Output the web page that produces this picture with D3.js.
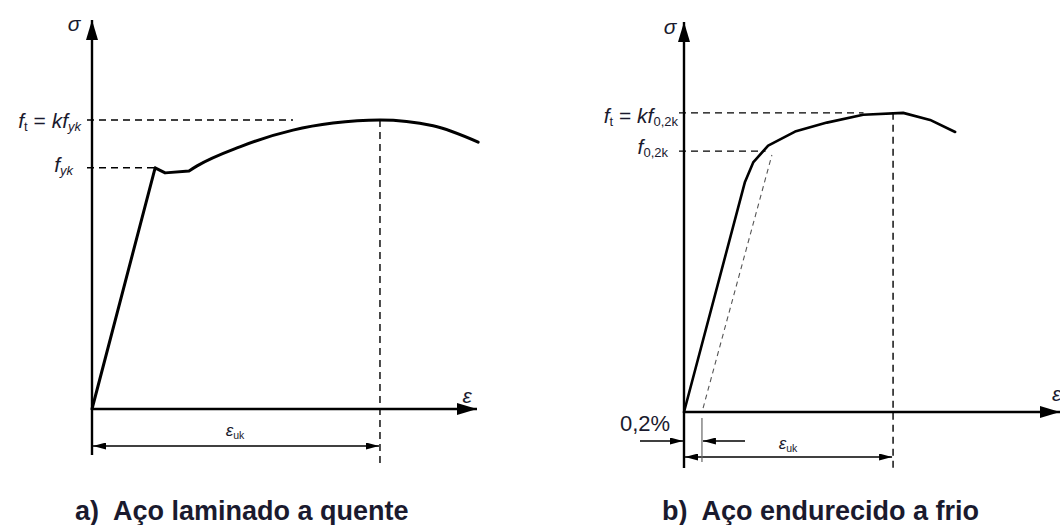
<!DOCTYPE html>
<html>
<head>
<meta charset="utf-8">
<script src="https://cdn.jsdelivr.net/npm/d3@7"></script>
<style>
  html, body { margin: 0; padding: 0; background: #fff; }
  svg { display: block; }
  text { font-family: "Liberation Sans", Arial, sans-serif; fill: #1a1a2e; white-space: pre; }
</style>
</head>
<body>
<svg id="chart" width="1060" height="525"></svg>
<script>
// ---- Stress–strain diagrams of reinforcing steel (schematic units 0..100) ----

// a) hot-rolled steel
const hotStrain  = [0, 16.4, 19.0, 25.2, 27.3, 38.4, 52.2, 62.6, 74.8, 88.6, 100.3];
const hotStress  = [0, 62.0, 60.7, 61.2, 62.5, 67.4, 71.7, 73.5, 74.3, 72.8, 68.6];
const hotFyk = 62.0;      // yield strength
const hotFt  = 74.3;      // tensile strength
const hotEuk = 74.8;      // strain at maximum load
const hotFtDashEnd = 52.2;

// b) cold-worked steel
const coldStrain = [0, 16.3, 18.5, 22.5, 29.7, 38.2, 47.9, 58.6, 65.8, 72.5];
const coldStress = [0, 59.0, 64.0, 68.3, 71.9, 74.2, 76.2, 76.7, 74.9, 71.8];
const coldF02k = 66.9;    // 0,2% proof strength
const coldFt   = 76.7;    // tensile strength
const coldEuk  = 55.9;    // strain at maximum load
const coldOffset = 4.8;   // 0,2% offset strain
const coldOffsetLine = [[5.1, 1.0], [23.5, 65.9]];
const coldFtDashEnd = 48.0;
const coldF02DashEnd = 21.8;

const titles = ["a)  Aço laminado a quente", "b)  Aço endurecido a frio"];

const svg = d3.select("#chart");
const defs = svg.append("defs");

function marker(id, w, h) {
  defs.append("marker")
    .attr("id", id)
    .attr("viewBox", `0 0 ${w} ${h}`)
    .attr("refX", w).attr("refY", h / 2)
    .attr("markerWidth", w).attr("markerHeight", h)
    .attr("markerUnits", "userSpaceOnUse")
    .attr("orient", "auto-start-reverse")
    .append("path")
    .attr("d", `M0,0L${w},${h / 2}L0,${h}Z`)
    .attr("fill", "#000");
}
marker("axisHead", 20, 12);
marker("dimHead", 13, 7);

const dash = "7,5";

function panel(opt) {
  const g = svg.append("g");
  const x = d3.scaleLinear().domain([0, 100]).range([opt.x0, opt.x1]);
  const y = d3.scaleLinear().domain([0, 100]).range([opt.y0, opt.y1]);

  // axes
  g.append("line")
    .attr("x1", x(0)).attr("y1", opt.yAxisBottom)
    .attr("x2", x(0)).attr("y2", y(100))
    .attr("stroke", "#000").attr("stroke-width", 2.4)
    .attr("marker-end", "url(#axisHead)");
  g.append("line")
    .attr("x1", x(0)).attr("y1", y(0))
    .attr("x2", opt.xAxisEnd).attr("y2", y(0))
    .attr("stroke", "#000").attr("stroke-width", 2.4)
    .attr("marker-end", "url(#axisHead)");

  // reference dashed lines
  const hd = (v, end) => g.append("line")
    .attr("x1", x(0) - 5).attr("y1", y(v)).attr("x2", x(end)).attr("y2", y(v))
    .attr("stroke", "#000").attr("stroke-width", 1.4).attr("stroke-dasharray", dash);
  opt.hLines.forEach(h => hd(h.v, h.end));

  g.append("line")
    .attr("x1", x(opt.euk)).attr("y1", y(opt.ft))
    .attr("x2", x(opt.euk)).attr("y2", opt.eukBottom)
    .attr("stroke", "#000").attr("stroke-width", 1.4).attr("stroke-dasharray", dash);

  // curve
  const pts = opt.strain.map((s, i) => [x(s), y(opt.stress[i])]);
  g.append("path")
    .attr("d", d3.line().curve(opt.curve)(pts))
    .attr("fill", "none").attr("stroke", "#000")
    .attr("stroke-width", opt.curveWidth)
    .attr("stroke-linejoin", "round").attr("stroke-linecap", "round");

  // strain dimension εuk
  g.append("line")
    .attr("x1", x(0) + 1).attr("y1", opt.dimY)
    .attr("x2", x(opt.euk) - 1).attr("y2", opt.dimY)
    .attr("stroke", "#000").attr("stroke-width", 1.3)
    .attr("marker-start", "url(#dimHead)").attr("marker-end", "url(#dimHead)");

  return { g, x, y };
}

function addLabel(g, parts, xPos, yPos, anchor, size) {
  const t = g.append("text").attr("x", xPos).attr("y", yPos)
    .attr("text-anchor", anchor).attr("font-size", size);
  parts.forEach(p => {
    const s = t.append("tspan").text(p.t)
      .attr("font-style", p.it ? "italic" : "normal");
    if (p.sub) s.attr("font-size", size * 0.62).attr("dy", 3);
    else if (p.after) s.attr("dy", -3);
  });
  return t;
}

// ---------- panel a ----------
const hotPts = hotStrain.map((s, i) => [s, hotStress[i]]);
const A = panel({
  x0: 92, x1: 477, y0: 409, y1: 20,
  xAxisEnd: 477, yAxisBottom: 455,
  strain: hotStrain, stress: hotStress,
  curve: d3.curveCatmullRom.alpha(0.5),
  curveWidth: 3,
  hLines: [{ v: hotFt, end: hotFtDashEnd }, { v: hotFyk, end: 16.4 }],
  euk: hotEuk, ft: hotFt, eukBottom: 463, dimY: 446
});
// keep the elastic branch and yield plateau sharp
A.g.select("path").attr("d", (() => {
  const x = A.x, y = A.y;
  const sharp = hotPts.slice(0, 4).map(p => [x(p[0]), y(p[1])]);
  const smooth = hotPts.slice(3).map(p => [x(p[0]), y(p[1])]);
  return d3.line()(sharp) + d3.line().curve(d3.curveMonotoneX)(smooth).replace(/^M/, "L");
})());

addLabel(A.g, [{ t: "σ", it: true }], 74, 31, "middle", 21);
addLabel(A.g, [{ t: "ε", it: true }], 467, 403, "middle", 21);
addLabel(A.g, [{ t: "f", it: true }, { t: "t", sub: true }, { t: " = ", after: true },
  { t: "kf", it: true }, { t: "yk", sub: true, it: true }], 81, 128, "end", 21);
addLabel(A.g, [{ t: "f", it: true }, { t: "yk", sub: true, it: true }], 73, 172, "end", 21);
addLabel(A.g, [{ t: "ε", it: true }, { t: "uk", sub: true }], 235, 436, "middle", 17);

// ---------- panel b ----------
const B = panel({
  x0: 684, x1: 1058, y0: 412, y1: 22,
  xAxisEnd: 1060, yAxisBottom: 468,
  strain: coldStrain, stress: coldStress,
  curve: d3.curveLinear,
  curveWidth: 2.6,
  hLines: [{ v: coldFt, end: coldFtDashEnd }, { v: coldF02k, end: coldF02DashEnd }],
  euk: coldEuk, ft: coldFt, eukBottom: 468, dimY: 457
});

// 0,2% offset line
B.g.append("line")
  .attr("x1", B.x(coldOffsetLine[0][0])).attr("y1", B.y(coldOffsetLine[0][1]))
  .attr("x2", B.x(coldOffsetLine[1][0])).attr("y2", B.y(coldOffsetLine[1][1]))
  .attr("stroke", "#555").attr("stroke-width", 1.1).attr("stroke-dasharray", "5,4");

// 0,2% offset dimension
B.g.append("line")
  .attr("x1", B.x(coldOffset)).attr("y1", 418)
  .attr("x2", B.x(coldOffset)).attr("y2", 462)
  .attr("stroke", "#666").attr("stroke-width", 1.2);
B.g.append("line")
  .attr("x1", 640).attr("y1", 441).attr("x2", B.x(0) - 1).attr("y2", 441)
  .attr("stroke", "#000").attr("stroke-width", 1.3).attr("marker-end", "url(#dimHead)");
B.g.append("line")
  .attr("x1", 745).attr("y1", 441).attr("x2", B.x(coldOffset) + 1).attr("y2", 441)
  .attr("stroke", "#000").attr("stroke-width", 1.3).attr("marker-end", "url(#dimHead)");

addLabel(B.g, [{ t: "σ", it: true }], 670, 34, "middle", 21);
addLabel(B.g, [{ t: "ε", it: true }], 1052, 401, "start", 21);
addLabel(B.g, [{ t: "f", it: true }, { t: "t", sub: true }, { t: " = ", after: true },
  { t: "kf", it: true }, { t: "0,2k", sub: true }], 678, 123, "end", 21);
addLabel(B.g, [{ t: "f", it: true }, { t: "0,2k", sub: true }], 668, 154, "end", 21);
addLabel(B.g, [{ t: "ε", it: true }, { t: "uk", sub: true }], 788, 449, "middle", 17);
addLabel(B.g, [{ t: "0,2%" }], 620, 431, "start", 22);

// titles
svg.append("text").attr("x", 75).attr("y", 520)
  .attr("font-size", 27).attr("font-weight", "bold").attr("fill", "#000").text(titles[0]);
svg.append("text").attr("x", 662).attr("y", 520)
  .attr("font-size", 27).attr("font-weight", "bold").attr("fill", "#000").text(titles[1]);
</script>
</body>
</html>
